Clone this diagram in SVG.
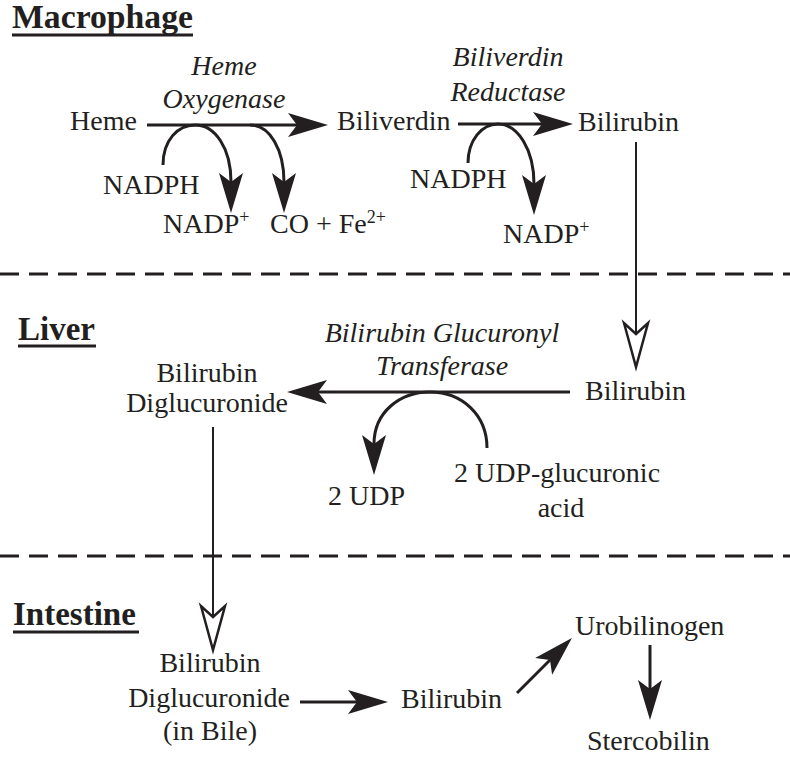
<svg xmlns="http://www.w3.org/2000/svg" width="790" height="757" viewBox="0 0 790 757">
<style>
text{font-family:"Liberation Serif","Times New Roman",serif;font-size:28px;fill:#231f20}
.it{font-style:italic}
.hd{font-weight:bold;font-size:33px}
.sup{font-size:18px}
.ln{fill:none;stroke:#231f20;stroke-width:3}
.thin{fill:none;stroke:#231f20;stroke-width:2}
.dash{fill:none;stroke:#231f20;stroke-width:3;stroke-dasharray:19 10}
.ul{stroke:#231f20;stroke-width:3}
.hollow{fill:#fff;stroke:#231f20;stroke-width:2.5;stroke-linejoin:miter}
</style>
<defs>
<marker id="ah" viewBox="0 0 40 26" markerWidth="40" markerHeight="26" refX="9" refY="13" orient="auto" markerUnits="userSpaceOnUse">
<path d="M0,1 L40,13 L0,25 L9,13 Z" fill="#231f20"/>
</marker>
</defs>

<g id="sections">
<line class="dash" x1="0" y1="274" x2="790" y2="274"/>
<line class="dash" x1="0" y1="556" x2="790" y2="556"/>
</g>

<g id="title-macrophage">
<text class="hd" x="12" y="28" font-size="30" textLength="181" lengthAdjust="spacingAndGlyphs">Macrophage</text>
<line class="ul" x1="12" y1="35" x2="193" y2="35"/>
</g>
<g id="title-liver">
<text class="hd" x="18" y="340">Liver</text>
<line class="ul" x1="18" y1="346" x2="96" y2="346"/>
</g>
<g id="title-intestine">
<text class="hd" x="13" y="625">Intestine</text>
<line class="ul" x1="13" y1="632" x2="139" y2="632"/>
</g>

<g id="connectors">
<line class="ln" x1="147" y1="125" x2="297" y2="125" marker-end="url(#ah)"/>
<path class="ln" d="M163,165 C163,140 178,125 195,125 C215,125 231,148 231,182" marker-end="url(#ah)"/>
<path class="ln" d="M250,125 C270,125 284,150 284,182" marker-end="url(#ah)"/>
<line class="ln" x1="458" y1="124" x2="542" y2="124" marker-end="url(#ah)"/>
<path class="ln" d="M468,163 C468,140 482,124 498,124 C518,124 534,150 534,184" marker-end="url(#ah)"/>
<line class="thin" x1="636" y1="142" x2="636" y2="334"/>
<polygon class="hollow" points="624,323 636,367 648,323 636,334"/>
<line class="ln" x1="570" y1="392" x2="318" y2="392" marker-end="url(#ah)"/>
<path class="ln" d="M487,448 C487,415 462,392 430,392 C400,392 374,412 374,444" marker-end="url(#ah)"/>
<line class="thin" x1="213" y1="427" x2="213" y2="617"/>
<polygon class="hollow" points="201,606 213,650 225,606 213,617"/>
<line class="ln" x1="300" y1="702" x2="357" y2="702" marker-end="url(#ah)"/>
<line class="ln" x1="517" y1="693" x2="550" y2="660" marker-end="url(#ah)"/>
<line class="ln" x1="650" y1="645" x2="650" y2="689" marker-end="url(#ah)"/>
</g>

<g id="heme"><text x="70" y="130">Heme</text></g>
<g id="heme-oxygenase">
<text class="it" x="224" y="75" text-anchor="middle">Heme</text>
<text class="it" x="224" y="108" text-anchor="middle">Oxygenase</text>
</g>
<g id="nadph-1"><text x="103" y="194">NADPH</text></g>
<g id="nadp-1"><text x="163" y="233">NADP<tspan class="sup" dy="-10">+</tspan></text></g>
<g id="co-fe"><text x="270" y="233">CO + Fe<tspan class="sup" dy="-10">2+</tspan></text></g>
<g id="biliverdin"><text x="337" y="130">Biliverdin</text></g>
<g id="biliverdin-reductase">
<text class="it" x="508" y="66" text-anchor="middle">Biliverdin</text>
<text class="it" x="508" y="101" text-anchor="middle">Reductase</text>
</g>
<g id="nadph-2"><text x="410" y="188">NADPH</text></g>
<g id="nadp-2"><text x="503" y="243">NADP<tspan class="sup" dy="-10">+</tspan></text></g>
<g id="bilirubin-macrophage"><text x="578" y="131">Bilirubin</text></g>

<g id="bilirubin-liver"><text x="585" y="400">Bilirubin</text></g>
<g id="bgt">
<text class="it" x="442" y="342" text-anchor="middle">Bilirubin Glucuronyl</text>
<text class="it" x="442" y="375" text-anchor="middle">Transferase</text>
</g>
<g id="bdg-liver">
<text x="207" y="382" text-anchor="middle">Bilirubin</text>
<text x="207" y="412" text-anchor="middle">Diglucuronide</text>
</g>
<g id="udp"><text x="328" y="505">2 UDP</text></g>
<g id="udp-gluc">
<text x="454" y="482">2 UDP-glucuronic</text>
<text x="561" y="517" text-anchor="middle">acid</text>
</g>

<g id="bdg-bile">
<text x="210" y="672" text-anchor="middle">Bilirubin</text>
<text x="209" y="707" text-anchor="middle">Diglucuronide</text>
<text x="210" y="740" text-anchor="middle">(in Bile)</text>
</g>
<g id="bilirubin-intestine"><text x="401" y="708">Bilirubin</text></g>
<g id="urobilinogen"><text x="575" y="635">Urobilinogen</text></g>
<g id="stercobilin"><text x="587" y="750">Stercobilin</text></g>
</svg>
